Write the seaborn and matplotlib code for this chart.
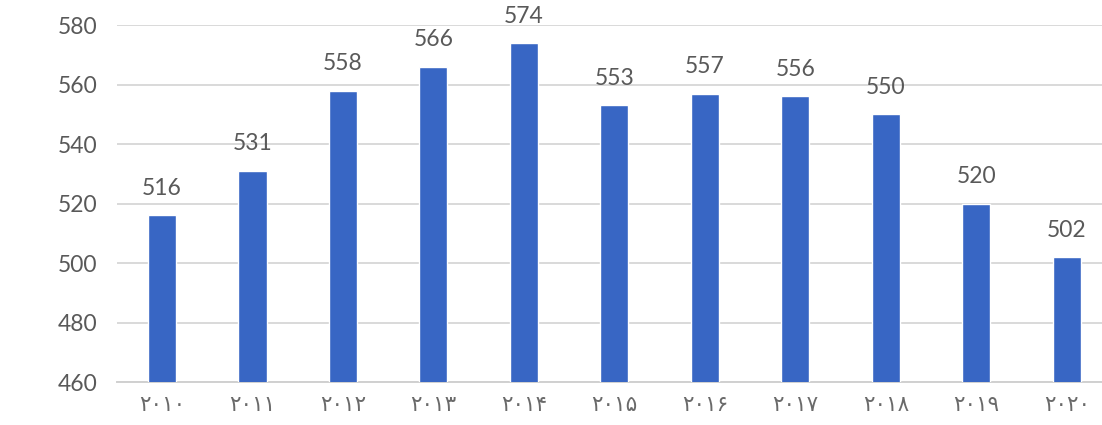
#!/usr/bin/env python3
"""Bar chart of yearly values 2010-2020 (Persian year labels)"""

import matplotlib
matplotlib.use('Agg')
import matplotlib.pyplot as plt
import pandas as pd
import seaborn as sns

# --------------------------------------------------
years = ['۲۰۱۰', '۲۰۱۱', '۲۰۱۲', '۲۰۱۳', '۲۰۱۴', '۲۰۱۵',
         '۲۰۱۶', '۲۰۱۷', '۲۰۱۸', '۲۰۱۹', '۲۰۲۰']
values = [516, 531, 558, 566, 574, 553, 557, 556, 550, 520, 502]
y_ticks = [460, 480, 500, 520, 540, 560, 580]


# --------------------------------------------------
def main():
    """Draw the chart"""

    sns.set_style('white')
    plt.rcParams['font.family'] = ['Lato', 'DejaVu Sans']

    df = pd.DataFrame({'year': years, 'value': values})

    fig = plt.figure(figsize=(11.02, 4.25), dpi=100)
    ax = fig.add_axes([0.106, 0.101, 0.903, 0.840])

    sns.barplot(data=df, x='year', y='value', color='#3866c4',
                width=0.31, saturation=1, ax=ax, zorder=3)

    ax.set_ylim(460, 580)
    ax.set_xlim(-0.5, len(years) - 0.5)
    ax.set_yticks(y_ticks)
    ax.yaxis.grid(True, color='#d9d9d9', linewidth=1.4, zorder=0)
    ax.set_axisbelow(True)

    for sp in ['top', 'right', 'left']:
        ax.spines[sp].set_visible(False)
    ax.spines['bottom'].set_color('#d0d0d0')
    ax.spines['bottom'].set_linewidth(1.4)

    ax.tick_params(axis='y', length=0, pad=14, labelsize=16.5, labelcolor='#595959')
    ax.tick_params(axis='x', which='major', length=0, pad=9, labelsize=15.5,
                   labelcolor='#6a6a6a')
    ax.set_xticks([i - 0.5 for i in range(len(years) + 1)], minor=True)
    ax.tick_params(axis='x', which='minor', length=5, color='#d0d0d0', width=1.2)
    ax.set_xticklabels(years, family=['DejaVu Sans'])

    for i, v in enumerate(values):
        ax.text(i, v + 5.5, str(v), ha='center', va='bottom',
                fontsize=16.5, color='#595959')

    ax.set_xlabel('')
    ax.set_ylabel('')

    fig.savefig('out.png', dpi=100)


# --------------------------------------------------
if __name__ == '__main__':
    main()
